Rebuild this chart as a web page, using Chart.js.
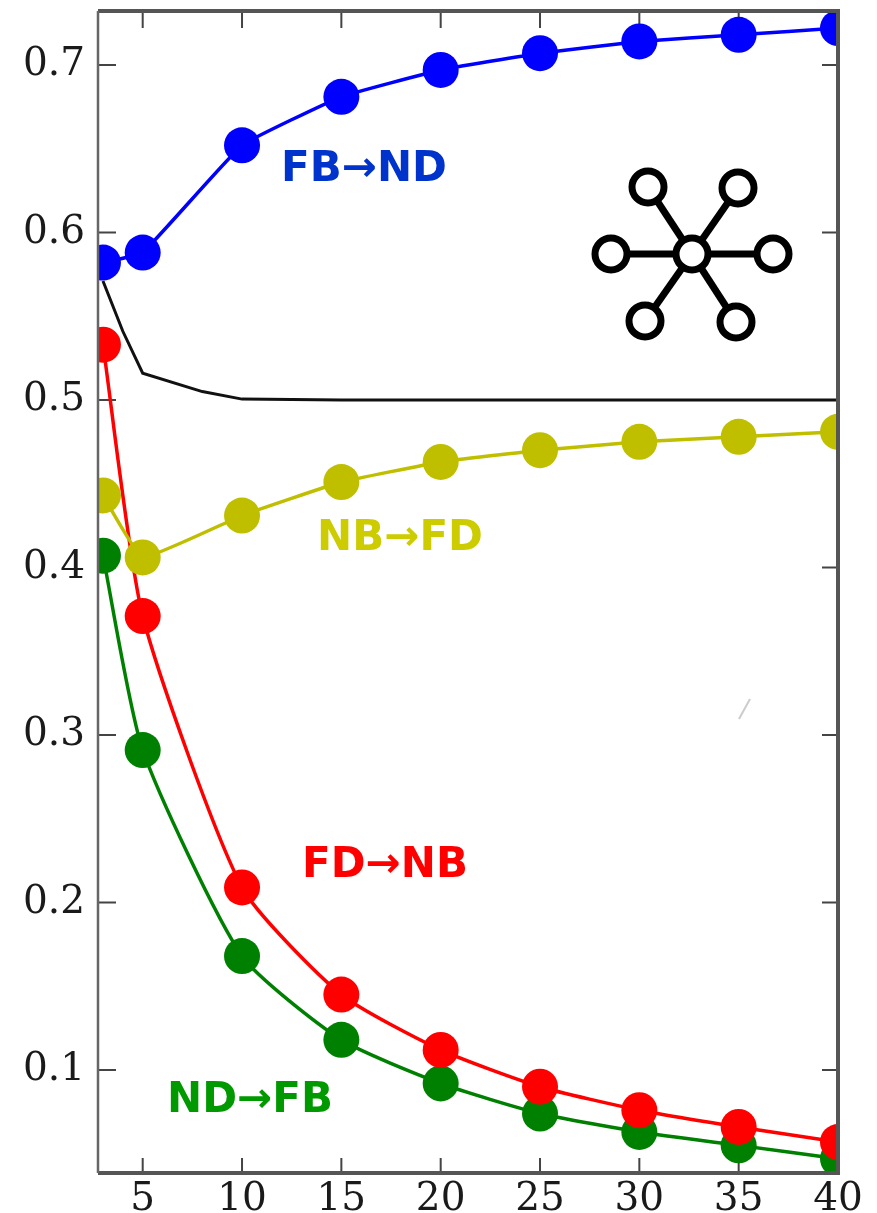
<!DOCTYPE html>
<html>
<head>
<meta charset="utf-8">
<title>chart</title>
<script src="https://cdn.jsdelivr.net/npm/chart.js@4"></script>
<style>
  html, body { margin: 0; padding: 0; background: #fff; }
  canvas { display: block; }
</style>
</head>
<body>
<canvas id="chart" width="877" height="1213"></canvas>
<script>
const steps = [3, 5, 10, 15, 20, 25, 30, 35, 40];
const blueValues = [0.582, 0.588, 0.652, 0.681, 0.697, 0.707, 0.714, 0.718, 0.722];
const yellowValues = [0.443, 0.406, 0.431, 0.451, 0.463, 0.470, 0.475, 0.478, 0.481];
const redValues = [0.533, 0.371, 0.209, 0.145, 0.112, 0.090, 0.076, 0.066, 0.057];
const greenValues = [0.407, 0.291, 0.168, 0.118, 0.092, 0.074, 0.063, 0.055, 0.047];

const blackSteps = [3, 4, 5, 8, 10, 15, 20, 25, 30, 35, 40];
const blackValues = [0.571, 0.541, 0.516, 0.505, 0.5005, 0.5, 0.5, 0.5, 0.5, 0.5, 0.5];

const xTicks = [5, 10, 15, 20, 25, 30, 35, 40];
const yTicks = [0.1, 0.2, 0.3, 0.4, 0.5, 0.6, 0.7];

// text labels next to the curves, in canvas pixels
const notes = [
  { text: 'FB→ND', color: '#0033cc', x: 364, y: 181 },
  { text: 'NB→FD', color: '#cccc00', x: 400, y: 550 },
  { text: 'FD→NB', color: '#ff0000', x: 385, y: 877 },
  { text: 'ND→FB', color: '#009900', x: 250, y: 1112 }
];

function toPoints(xs, ys) {
  return xs.map((x, i) => ({ x: x, y: ys[i] }));
}

function curve(label, color, values, tension) {
  return {
    label: label,
    data: toPoints(steps, values),
    borderColor: color,
    backgroundColor: color,
    borderWidth: 3.5,
    pointRadius: 18,
    pointBorderWidth: 0,
    tension: tension,
    clip: 0
  };
}

// inward ticks on all four sides, under the markers
const tickMarks = {
  id: 'tickMarks',
  beforeDatasetsDraw(chart) {
    const { ctx, chartArea: a, scales: { x, y } } = chart;
    ctx.save();
    ctx.strokeStyle = '#444';
    ctx.lineWidth = 2;
    ctx.beginPath();
    xTicks.forEach(v => {
      const px = x.getPixelForValue(v);
      ctx.moveTo(px, a.top);
      ctx.lineTo(px, a.top + 17);
      ctx.moveTo(px, a.bottom);
      ctx.lineTo(px, a.bottom - 15);
    });
    yTicks.forEach(v => {
      const py = y.getPixelForValue(v);
      ctx.moveTo(a.left, py);
      ctx.lineTo(a.left + 18, py);
      ctx.moveTo(a.right, py);
      ctx.lineTo(a.right - 16, py);
    });
    ctx.stroke();
    ctx.restore();
  }
};

const frameAndNotes = {
  id: 'frameAndNotes',
  afterDatasetsDraw(chart) {
    const { ctx, chartArea: a } = chart;
    ctx.save();

    // frame: left side is thinner than the others
    ctx.strokeStyle = '#555';
    ctx.lineWidth = 4;
    ctx.beginPath();
    ctx.moveTo(a.left, a.top);
    ctx.lineTo(a.right, a.top);
    ctx.lineTo(a.right, a.bottom);
    ctx.lineTo(a.left, a.bottom);
    ctx.stroke();
    ctx.strokeStyle = '#666';
    ctx.lineWidth = 2.5;
    ctx.beginPath();
    ctx.moveTo(a.left, a.top);
    ctx.lineTo(a.left, a.bottom);
    ctx.stroke();

    ctx.font = 'bold 42px "DejaVu Sans"';
    ctx.textAlign = 'center';
    ctx.textBaseline = 'alphabetic';
    notes.forEach(n => {
      ctx.fillStyle = n.color;
      ctx.fillText(n.text, n.x, n.y);
    });

    // star network icon
    const hub = [692, 254];
    const leaves = [[611, 254], [773, 254], [648, 187], [738, 188], [645, 321], [736, 322]];
    ctx.strokeStyle = '#000';
    ctx.fillStyle = '#fff';
    ctx.lineWidth = 7;
    leaves.forEach(p => {
      ctx.beginPath();
      ctx.moveTo(hub[0], hub[1]);
      ctx.lineTo(p[0], p[1]);
      ctx.stroke();
    });
    leaves.concat([hub]).forEach(p => {
      ctx.beginPath();
      ctx.arc(p[0], p[1], 16, 0, Math.PI * 2);
      ctx.fill();
      ctx.stroke();
    });

    // small scratch in the scan
    ctx.strokeStyle = '#ccc';
    ctx.lineWidth = 2;
    ctx.beginPath();
    ctx.moveTo(739, 719);
    ctx.lineTo(750, 699);
    ctx.stroke();
    ctx.restore();
  }
};

new Chart(document.getElementById('chart'), {
  type: 'line',
  data: {
    datasets: [
      {
        label: 'baseline',
        data: toPoints(blackSteps, blackValues),
        borderColor: '#111',
        borderWidth: 3,
        pointRadius: 0,
        tension: 0,
        clip: 0
      },
      curve('FB→ND', '#0000ff', blueValues, 0.1),
      curve('NB→FD', '#bfbf00', yellowValues, 0.1),
      curve('FD→NB', '#ff0000', redValues, 0.2),
      curve('ND→FB', '#008000', greenValues, 0.2)
    ]
  },
  options: {
    responsive: false,
    animation: false,
    layout: { autoPadding: false, padding: { top: 11, right: 39 } },
    plugins: { legend: { display: false }, tooltip: { enabled: false } },
    scales: {
      x: {
        type: 'linear',
        min: 2.75,
        max: 40,
        afterBuildTicks: s => { s.ticks = xTicks.map(v => ({ value: v })); },
        afterFit: s => { s.height = 40; s.paddingLeft = 0; s.paddingRight = 0; },
        grid: { display: false, drawTicks: false },
        border: { display: false },
        ticks: {
          autoSkip: false,
          maxRotation: 0,
          padding: 3,
          color: '#1a1a1a',
          font: { family: 'DejaVu Serif', size: 39 }
        }
      },
      y: {
        type: 'linear',
        min: 0.0385,
        max: 0.7322,
        afterBuildTicks: s => { s.ticks = yTicks.map(v => ({ value: v })); },
        afterFit: s => { s.width = 98; s.paddingTop = 0; s.paddingBottom = 0; },
        grid: { display: false, drawTicks: false },
        border: { display: false },
        ticks: {
          autoSkip: false,
          padding: 13,
          color: '#1a1a1a',
          font: { family: 'DejaVu Serif', size: 39 },
          callback: v => v.toFixed(1)
        }
      }
    }
  },
  plugins: [tickMarks, frameAndNotes]
});
</script>
</body>
</html>
